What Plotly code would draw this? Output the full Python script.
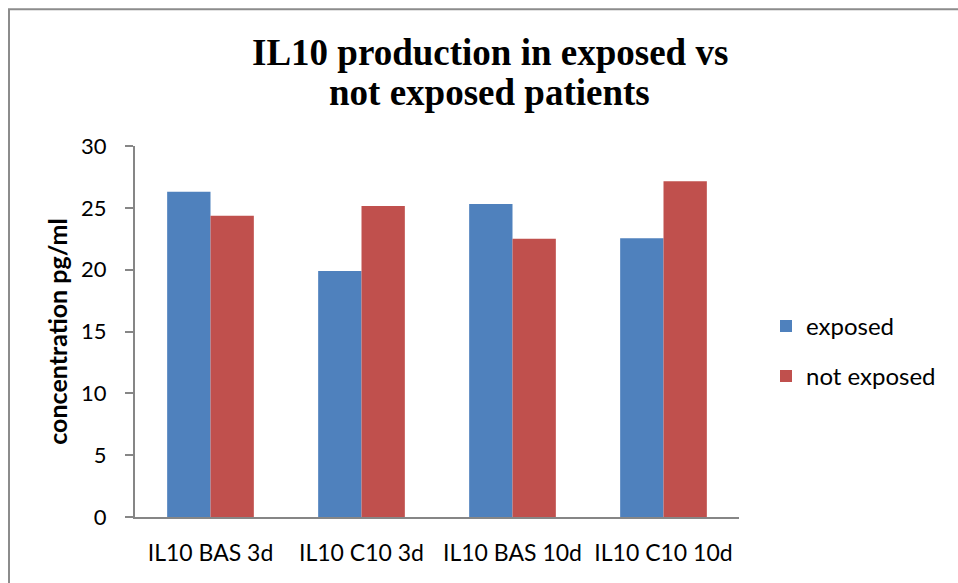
import plotly.graph_objects as go

categories = ["IL10 BAS 3d", "IL10 C10 3d", "IL10 BAS 10d", "IL10 C10 10d"]
exposed = [26.3, 19.9, 25.3, 22.55]
not_exposed = [24.35, 25.15, 22.5, 27.15]
y_ticks = [0, 5, 10, 15, 20, 25, 30]

W, H = 958, 583
L, R, T, B = 135, 958 - 739, 146, 583 - 517.5
pw, ph = W - L - R, H - T - B

def px(x):
    return (x - L) / pw

def py(y):
    return (H - B - y) / ph

fig = go.Figure()
fig.add_trace(go.Bar(name="exposed", x=categories, y=exposed, legendgroup="a",
                     marker=dict(color="#4F81BD", line=dict(width=0))))
fig.add_trace(go.Bar(name="not exposed", x=categories, y=not_exposed, legendgroup="b",
                     marker=dict(color="#C0504D", line=dict(width=0))))

font_sans = "Lato, Carlito, Calibri, sans-serif"

fig.update_layout(
    width=W, height=H,
    margin=dict(l=L, r=R, t=T, b=B),
    paper_bgcolor="white", plot_bgcolor="white",
    barmode="group", bargap=0.426, bargroupgap=0,
    font=dict(family=font_sans, size=22, color="#000000"),
    showlegend=True,
    legend=dict(x=px(766), y=py(304), xanchor="left", yanchor="top",
                font=dict(family=font_sans, size=24, color="#000000"),
                tracegroupgap=16, itemsizing="constant", itemwidth=30,
                bgcolor="rgba(0,0,0,0)"),
    xaxis=dict(showline=True, linecolor="#868686", linewidth=2, ticks="",
               tickfont=dict(family=font_sans, size=23), showgrid=False,
               ticklabelstandoff=14, fixedrange=True),
    yaxis=dict(range=[0, 30], tickvals=y_ticks, showline=True, linecolor="#868686",
               linewidth=2, ticks="outside", ticklen=8, tickcolor="#868686", tickwidth=1.5,
               showgrid=False, zeroline=False, ticklabelstandoff=14,
               tickfont=dict(family=font_sans, size=22),
               title=dict(text="<b>concentration pg/ml</b>", standoff=6,
                          font=dict(family=font_sans, size=25))),
    annotations=[
        dict(text="<b>IL10 production in exposed vs</b>",
             xref="paper", yref="paper", x=px(490), y=py(52),
             xanchor="center", yanchor="middle", showarrow=False,
             font=dict(family="Liberation Serif, serif", size=37, color="#000000")),
        dict(text="<b>not exposed patients</b>",
             xref="paper", yref="paper", x=px(490), y=py(92),
             xanchor="center", yanchor="middle", showarrow=False,
             font=dict(family="Liberation Serif, serif", size=37, color="#000000")),
    ],
    shapes=[dict(type="rect", xref="paper", yref="paper",
                 x0=px(9), x1=px(975), y0=py(600), y1=py(9),
                 line=dict(color="#8C8C8C", width=2), fillcolor="rgba(0,0,0,0)", layer="below")],
)

fig.write_html("out.html")
